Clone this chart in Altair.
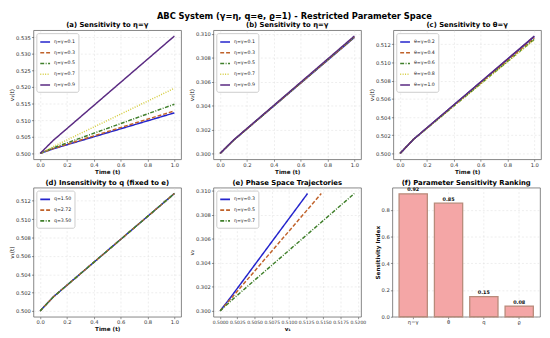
import altair as alt
import pandas as pd

FONT = "DejaVu Sans"

# ---------------- data ----------------
t_vals = [0.0, 0.1, 1.0]

a_labels = ["η=γ=0.1", "η=γ=0.3", "η=γ=0.5", "η=γ=0.7", "η=γ=0.9"]
a_v1 = [
    [0.5000, 0.50140, 0.5122],
    [0.5000, 0.50150, 0.5128],
    [0.5000, 0.50170, 0.5148],
    [0.5000, 0.50210, 0.5196],
    [0.5000, 0.50400, 0.5353],
]

b_labels = ["η=γ=0.1", "η=γ=0.3", "η=γ=0.5", "η=γ=0.7", "η=γ=0.9"]
b_v2 = [
    [0.3000, 0.30110, 0.30970],
    [0.3000, 0.30110, 0.30972],
    [0.3000, 0.30110, 0.30975],
    [0.3000, 0.30110, 0.30978],
    [0.3000, 0.30112, 0.30982],
]

c_labels = ["θ=γ=0.2", "θ=γ=0.4", "θ=γ=0.6", "θ=γ=0.8", "θ=γ=1.0"]
c_v1 = [
    [0.5000, 0.50155, 0.51285],
    [0.5000, 0.50155, 0.51270],
    [0.5000, 0.50155, 0.51255],
    [0.5000, 0.50155, 0.51250],
    [0.5000, 0.50155, 0.51290],
]

d_labels = ["q=1.50", "q=2.72", "q=3.50"]
d_v1 = [
    [0.5000, 0.50155, 0.51280],
    [0.5000, 0.50155, 0.51280],
    [0.5000, 0.50155, 0.51280],
]

e_labels = ["η=γ=0.3", "η=γ=0.5", "η=γ=0.7"]
e_v1 = [
    [0.5000, 0.50150, 0.51270],
    [0.5000, 0.50170, 0.51470],
    [0.5000, 0.50210, 0.51950],
]
e_v2 = [
    [0.3000, 0.30110, 0.30975],
    [0.3000, 0.30110, 0.30975],
    [0.3000, 0.30110, 0.30975],
]

f_params = ["η=γ", "θ", "q", "ϱ"]
f_vals = [0.92, 0.85, 0.15, 0.08]

colors5 = ["#2424cc", "#c0622a", "#3f7f2a", "#d4cc3c", "#5a2a82"]
dashes5 = [[1, 0], [4, 2], [4, 1.5, 1, 1.5], [1, 1.5], [1, 0]]

W, H = 151, 132


def long_df(labels, xs_list, ys_list):
    rows = []
    for lab, xs, ys in zip(labels, xs_list, ys_list):
        for i, (x, y) in enumerate(zip(xs, ys)):
            rows.append({"s": lab, "x": x, "y": y, "i": i})
    return pd.DataFrame(rows)


def legend():
    return alt.Legend(
        title=None, orient="top-left", offset=3, padding=3,
        fillColor="white", strokeColor="#cccccc", cornerRadius=2,
        labelFontSize=4.8, labelFont=FONT, labelColor="#222",
        symbolType="stroke", symbolSize=100, symbolStrokeWidth=1.6,
        rowPadding=1, labelOffset=3,
    )


def line_panel(df, labels, colors, dashes, title, xtitle, ytitle,
               xdom, xvals, xfmt, ydom, yvals, yfmt, xlab_size=5.3):
    return alt.Chart(df, title=alt.TitleParams(title, fontSize=7, fontWeight="bold", offset=2, font=FONT)).mark_line(
        strokeWidth=1.5, clip=True
    ).encode(
        x=alt.X("x:Q", scale=alt.Scale(domain=xdom, nice=False, zero=False),
                axis=alt.Axis(values=xvals, format=xfmt, title=xtitle, titleFontWeight="bold",
                              labelFontSize=xlab_size, labelOverlap=False)),
        y=alt.Y("y:Q", scale=alt.Scale(domain=ydom, nice=False, zero=False),
                axis=alt.Axis(values=yvals, format=yfmt, title=ytitle, titleFontWeight="normal")),
        color=alt.Color("s:N", scale=alt.Scale(domain=labels, range=colors), legend=legend()),
        strokeDash=alt.StrokeDash("s:N", scale=alt.Scale(domain=labels, range=dashes), legend=legend()),
        order="i:Q",
    ).properties(width=W, height=H)


t_list = [t_vals] * 5
tx = [0.0, 0.2, 0.4, 0.6, 0.8, 1.0]

pa = line_panel(long_df(a_labels, t_list, a_v1), a_labels, colors5, dashes5,
                "(a) Sensitivity to η=γ", "Time (t)", "v₁(t)",
                [-0.05, 1.05], tx, ".1f", [0.49823, 0.53707],
                [0.500, 0.505, 0.510, 0.515, 0.520, 0.525, 0.530, 0.535], ".3f")
pb = line_panel(long_df(b_labels, t_list, b_v2), b_labels, colors5, dashes5,
                "(b) Sensitivity to η=γ", "Time (t)", "v₂(t)",
                [-0.05, 1.05], tx, ".1f", [0.29951, 0.31031],
                [0.300, 0.302, 0.304, 0.306, 0.308, 0.310], ".3f")
pc = line_panel(long_df(c_labels, t_list, c_v1), c_labels, colors5, dashes5,
                "(c) Sensitivity to θ=γ", "Time (t)", "v₁(t)",
                [-0.05, 1.05], tx, ".1f", [0.49936, 0.51355],
                [0.500, 0.502, 0.504, 0.506, 0.508, 0.510, 0.512], ".3f")
pd_ = line_panel(long_df(d_labels, [t_vals] * 3, d_v1), d_labels, colors5[:3], dashes5[:3],
                 "(d) Insensitivity to q (fixed to e)", "Time (t)", "v₁(t)",
                 [-0.05, 1.05], tx, ".1f", [0.49936, 0.51344],
                 [0.500, 0.502, 0.504, 0.506, 0.508, 0.510, 0.512], ".3f")
pe = line_panel(long_df(e_labels, e_v1, e_v2), e_labels, colors5[:3], dashes5[:3],
                "(e) Phase Space Trajectories", "v₁", "v₂",
                [0.49902, 0.52048],
                [0.5000, 0.5025, 0.5050, 0.5075, 0.5100, 0.5125, 0.5150, 0.5175, 0.5200], ".4f",
                [0.29951, 0.31024],
                [0.300, 0.302, 0.304, 0.306, 0.308, 0.310], ".3f", xlab_size=4.6)

f_df = pd.DataFrame({"p": f_params, "v": f_vals})
f_base = alt.Chart(f_df, title=alt.TitleParams("(f) Parameter Sensitivity Ranking", fontSize=7,
                                               fontWeight="bold", offset=2, font=FONT))
f_x = alt.X("p:N", sort=f_params,
            scale=alt.Scale(paddingInner=0.2, paddingOuter=0.19),
            axis=alt.Axis(title=None, labelAngle=0, grid=True))
f_y = alt.Y("v:Q", scale=alt.Scale(domain=[0, 0.966], nice=False),
            axis=alt.Axis(values=[0.0, 0.2, 0.4, 0.6, 0.8], format=".1f",
                          title="Sensitivity Index", titleFontWeight="bold"))
f_bars = f_base.mark_bar(color="#f4a6a6", stroke="#b88a7a", strokeWidth=1.3).encode(x=f_x, y=f_y)
f_text = f_base.mark_text(baseline="bottom", dy=-1.5, fontSize=5, fontWeight="bold", font=FONT,
                          color="#111").encode(x=f_x, y=f_y, text=alt.Text("v:Q", format=".2f"))
pf = alt.layer(f_bars, f_text).properties(width=W, height=H)

row1 = alt.hconcat(pa, pb, pc, spacing=6).resolve_scale(color="independent", strokeDash="independent")
row2 = alt.hconcat(pd_, pe, pf, spacing=6).resolve_scale(color="independent", strokeDash="independent")

chart = alt.vconcat(row1, row2, spacing=3).resolve_scale(
    color="independent", strokeDash="independent"
).properties(
    title=alt.TitleParams("ABC System (γ=η, q=e, ϱ=1) - Restricted Parameter Space",
                          fontSize=8.5, fontWeight="bold", anchor="middle", offset=1, font=FONT, dx=20),
    padding={"left": 0, "top": 0, "right": 0, "bottom": 0},
).configure(font=FONT).configure_view(
    stroke="#666666", strokeWidth=0.8
).configure_axis(
    domain=False, labelFont=FONT, titleFont=FONT, labelFontSize=5.3, titleFontSize=5.8,
    labelColor="#333", titleColor="#111", tickColor="#444", tickSize=2, tickWidth=0.6,
    labelPadding=1.2, titlePadding=1, gridColor="#dddddd", gridDash=[2, 2], gridWidth=0.5,
)

chart.save("out.html", embed_options={"renderer": "svg", "actions": False})
